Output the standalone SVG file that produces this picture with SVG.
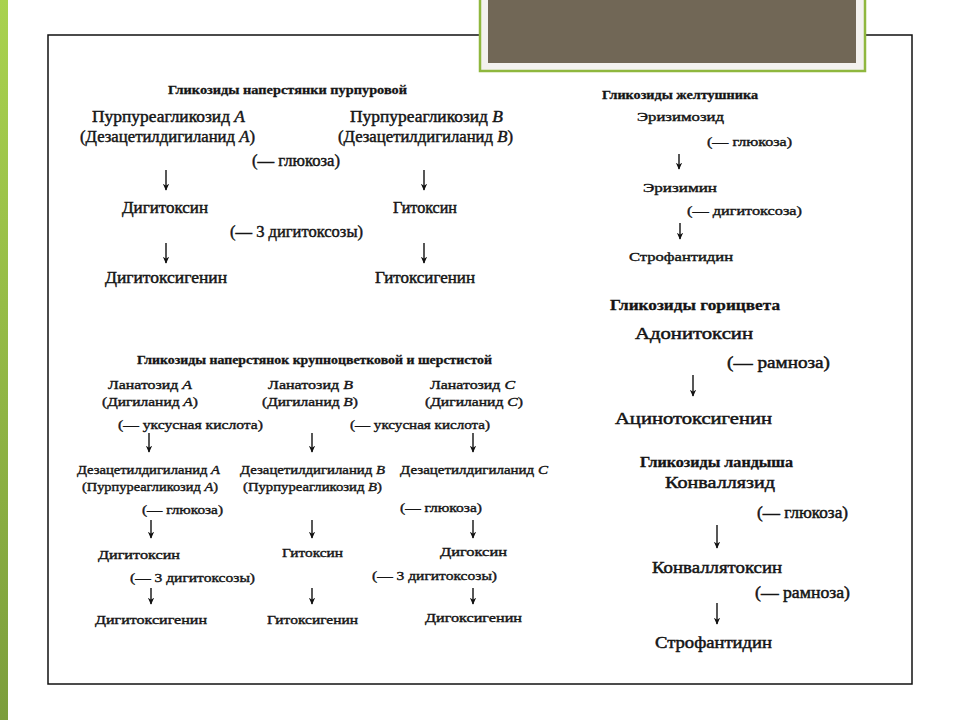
<svg xmlns="http://www.w3.org/2000/svg" width="960" height="720" viewBox="0 0 960 720">
<defs>
<linearGradient id="gbar" x1="0" y1="0" x2="0" y2="1">
<stop offset="0" stop-color="#a9d24f"/>
<stop offset="1" stop-color="#7c9e3c"/>
</linearGradient>
<marker id="ah" viewBox="0 0 10 10" refX="9" refY="5" markerWidth="7" markerHeight="7" markerUnits="userSpaceOnUse" orient="auto">
<path d="M0,0.5 L10,5 L0,9.5 L3,5 z" fill="#111"/>
</marker>
<style>
text{font-family:"Liberation Serif","Times New Roman",serif;fill:#151515;text-anchor:middle;}
.l{font-size:16px;stroke:#151515;stroke-width:0.45;}
.m{font-size:13px;stroke:#151515;stroke-width:0.4;}
.r{font-size:17px;stroke:#151515;stroke-width:0.5;}
.h{font-weight:bold;font-size:13px;stroke:#151515;stroke-width:0.3;}
.i{font-style:italic;}
.arr{stroke:#111;stroke-width:1.4;fill:none;marker-end:url(#ah);}
</style>
</defs>
<rect x="0" y="0" width="960" height="720" fill="#ffffff"/>
<rect x="0" y="0" width="8" height="720" fill="url(#gbar)"/>
<rect id="frame" x="48" y="35" width="864" height="649" fill="none" stroke="#111" stroke-width="1.5"/>
<g id="title-box">
<rect x="480" y="-2" width="385" height="73" fill="#f3f1ef" stroke="#8fb73e" stroke-width="2.5"/>
<rect x="488" y="0" width="368" height="63" fill="#716756"/>
</g>

<g id="connectors">
<line class="arr" x1="166" y1="170" x2="166" y2="190"/>
<line class="arr" x1="424" y1="170" x2="424" y2="190"/>
<line class="arr" x1="166" y1="243" x2="166" y2="263"/>
<line class="arr" x1="424" y1="243" x2="424" y2="263"/>
<line class="arr" x1="679" y1="154" x2="679" y2="169"/>
<line class="arr" x1="680" y1="223" x2="680" y2="239"/>
<line class="arr" x1="693" y1="375" x2="693" y2="396"/>
<line class="arr" x1="717" y1="525" x2="717" y2="548"/>
<line class="arr" x1="717" y1="603" x2="717" y2="624"/>
<line class="arr" x1="149" y1="433" x2="149" y2="452"/>
<line class="arr" x1="312" y1="433" x2="312" y2="452"/>
<line class="arr" x1="473" y1="433" x2="473" y2="452"/>
<line class="arr" x1="151" y1="520" x2="151" y2="538"/>
<line class="arr" x1="312" y1="520" x2="312" y2="538"/>
<line class="arr" x1="473" y1="520" x2="473" y2="538"/>
<line class="arr" x1="151" y1="588" x2="151" y2="604"/>
<line class="arr" x1="312" y1="588" x2="312" y2="604"/>
<line class="arr" x1="473" y1="588" x2="473" y2="604"/>
</g>

<g id="purpurea">
<text id="h1" class="h" x="287.5" y="94" textLength="239" lengthAdjust="spacingAndGlyphs">Гликозиды наперстянки пурпуровой</text>
<g id="n-purpA"><text class="l" x="168.5" y="122" textLength="153" lengthAdjust="spacingAndGlyphs">Пурпуреагликозид <tspan class="i">А</tspan></text>
<text class="l" x="167.5" y="142" textLength="175" lengthAdjust="spacingAndGlyphs">(Дезацетилдигиланид <tspan class="i">А</tspan>)</text></g>
<g id="n-purpB"><text class="l" x="426.5" y="122" textLength="153" lengthAdjust="spacingAndGlyphs">Пурпуреагликозид <tspan class="i">В</tspan></text>
<text class="l" x="425.5" y="142" textLength="175" lengthAdjust="spacingAndGlyphs">(Дезацетилдигиланид <tspan class="i">В</tspan>)</text></g>
<text class="l" x="296" y="166" textLength="88" lengthAdjust="spacingAndGlyphs">(— глюкоза)</text>
<g id="n-digitoxin1"><text class="l" x="165" y="213" textLength="86" lengthAdjust="spacingAndGlyphs">Дигитоксин</text></g>
<g id="n-gitoxin1"><text class="l" x="425" y="213" textLength="64" lengthAdjust="spacingAndGlyphs">Гитоксин</text></g>
<text class="l" x="296.5" y="237" textLength="133" lengthAdjust="spacingAndGlyphs">(— 3 дигитоксозы)</text>
<g id="n-digitoxigenin1"><text class="l" x="166" y="283" textLength="122" lengthAdjust="spacingAndGlyphs">Дигитоксигенин</text></g>
<g id="n-gitoxigenin1"><text class="l" x="425" y="283" textLength="100" lengthAdjust="spacingAndGlyphs">Гитоксигенин</text></g>
</g>

<g id="erysimum">
<text class="h" style="font-size:12px" x="680" y="99" textLength="156" lengthAdjust="spacingAndGlyphs">Гликозиды желтушника</text>
<g id="n-erysimosid"><text class="m" x="680.5" y="121" textLength="87" lengthAdjust="spacingAndGlyphs">Эризимозид</text></g>
<text class="m" x="749.5" y="146" textLength="85" lengthAdjust="spacingAndGlyphs">(— глюкоза)</text>
<g id="n-erysimin"><text class="m" x="680" y="192" textLength="74" lengthAdjust="spacingAndGlyphs">Эризимин</text></g>
<text class="m" x="744.5" y="215" textLength="115" lengthAdjust="spacingAndGlyphs">(— дигитоксоза)</text>
<g id="n-strophanthidin1"><text class="m" x="681" y="261" textLength="104" lengthAdjust="spacingAndGlyphs">Строфантидин</text></g>
</g>

<g id="adonis">
<text class="h" style="font-size:15px" x="695" y="310" textLength="170" lengthAdjust="spacingAndGlyphs">Гликозиды горицвета</text>
<g id="n-adonitoxin"><text class="r" x="694" y="339" textLength="118" lengthAdjust="spacingAndGlyphs">Адонитоксин</text></g>
<text class="r" x="778.5" y="368" textLength="103" lengthAdjust="spacingAndGlyphs">(— рамноза)</text>
<g id="n-acinotoxigenin"><text class="r" x="693.5" y="424" textLength="157" lengthAdjust="spacingAndGlyphs">Ацинотоксигенин</text></g>
</g>

<g id="convallaria">
<text class="h" style="font-size:14px" x="716.5" y="467" textLength="153" lengthAdjust="spacingAndGlyphs">Гликозиды ландыша</text>
<g id="n-convallasid"><text class="r" x="720" y="488" textLength="110" lengthAdjust="spacingAndGlyphs">Конваллязид</text></g>
<text class="r" x="802.5" y="518" textLength="91" lengthAdjust="spacingAndGlyphs">(— глюкоза)</text>
<g id="n-convallatoxin"><text class="r" x="717" y="573" textLength="130" lengthAdjust="spacingAndGlyphs">Конваллятоксин</text></g>
<text class="r" x="802.5" y="598" textLength="95" lengthAdjust="spacingAndGlyphs">(— рамноза)</text>
<g id="n-strophanthidin2"><text class="r" x="713.5" y="648" textLength="117" lengthAdjust="spacingAndGlyphs">Строфантидин</text></g>
</g>

<g id="lanata">
<text class="h" style="font-size:12px" x="314.5" y="364" textLength="355" lengthAdjust="spacingAndGlyphs">Гликозиды наперстянок крупноцветковой и шерстистой</text>
<g id="n-lanA"><text class="m" x="150" y="389" textLength="84" lengthAdjust="spacingAndGlyphs">Ланатозид <tspan class="i">А</tspan></text>
<text class="m" x="150" y="406" textLength="96" lengthAdjust="spacingAndGlyphs">(Дигиланид <tspan class="i">А</tspan>)</text></g>
<g id="n-lanB"><text class="m" x="310.5" y="389" textLength="85" lengthAdjust="spacingAndGlyphs">Ланатозид <tspan class="i">В</tspan></text>
<text class="m" x="310" y="406" textLength="96" lengthAdjust="spacingAndGlyphs">(Дигиланид <tspan class="i">В</tspan>)</text></g>
<g id="n-lanC"><text class="m" x="472.5" y="389" textLength="85" lengthAdjust="spacingAndGlyphs">Ланатозид <tspan class="i">С</tspan></text>
<text class="m" x="474" y="406" textLength="98" lengthAdjust="spacingAndGlyphs">(Дигиланид <tspan class="i">С</tspan>)</text></g>
<text class="m" x="190.5" y="429" textLength="145" lengthAdjust="spacingAndGlyphs">(— уксусная кислота)</text>
<text class="m" x="420" y="429" textLength="140" lengthAdjust="spacingAndGlyphs">(— уксусная кислота)</text>
<g id="n-dezA"><text class="m" x="148.5" y="474" textLength="143" lengthAdjust="spacingAndGlyphs">Дезацетилдигиланид <tspan class="i">А</tspan></text>
<text class="m" x="150" y="491" textLength="136" lengthAdjust="spacingAndGlyphs">(Пурпуреагликозид <tspan class="i">А</tspan>)</text></g>
<g id="n-dezB"><text class="m" x="312.5" y="474" textLength="145" lengthAdjust="spacingAndGlyphs">Дезацетилдигиланид <tspan class="i">В</tspan></text>
<text class="m" x="312.5" y="491" textLength="139" lengthAdjust="spacingAndGlyphs">(Пурпуреагликозид <tspan class="i">В</tspan>)</text></g>
<g id="n-dezC"><text class="m" x="474" y="474" textLength="148" lengthAdjust="spacingAndGlyphs">Дезацетилдигиланид <tspan class="i">С</tspan></text></g>
<text class="m" x="182.5" y="514" textLength="81" lengthAdjust="spacingAndGlyphs">(— глюкоза)</text>
<text class="m" x="441" y="512" textLength="82" lengthAdjust="spacingAndGlyphs">(— глюкоза)</text>
<g id="n-digitoxin2"><text class="m" x="139" y="559" textLength="82" lengthAdjust="spacingAndGlyphs">Дигитоксин</text></g>
<g id="n-gitoxin2"><text class="m" x="312.5" y="557" textLength="61" lengthAdjust="spacingAndGlyphs">Гитоксин</text></g>
<g id="n-digoxin"><text class="m" x="473.5" y="556" textLength="67" lengthAdjust="spacingAndGlyphs">Дигоксин</text></g>
<text class="m" x="192.5" y="582" textLength="125" lengthAdjust="spacingAndGlyphs">(— 3 дигитоксозы)</text>
<text class="m" x="434.5" y="580" textLength="125" lengthAdjust="spacingAndGlyphs">(— 3 дигитоксозы)</text>
<g id="n-digitoxigenin2"><text class="m" x="151" y="624" textLength="112" lengthAdjust="spacingAndGlyphs">Дигитоксигенин</text></g>
<g id="n-gitoxigenin2"><text class="m" x="312.5" y="624" textLength="91" lengthAdjust="spacingAndGlyphs">Гитоксигенин</text></g>
<g id="n-digoxigenin"><text class="m" x="473.5" y="622" textLength="97" lengthAdjust="spacingAndGlyphs">Дигоксигенин</text></g>
</g>
</svg>
